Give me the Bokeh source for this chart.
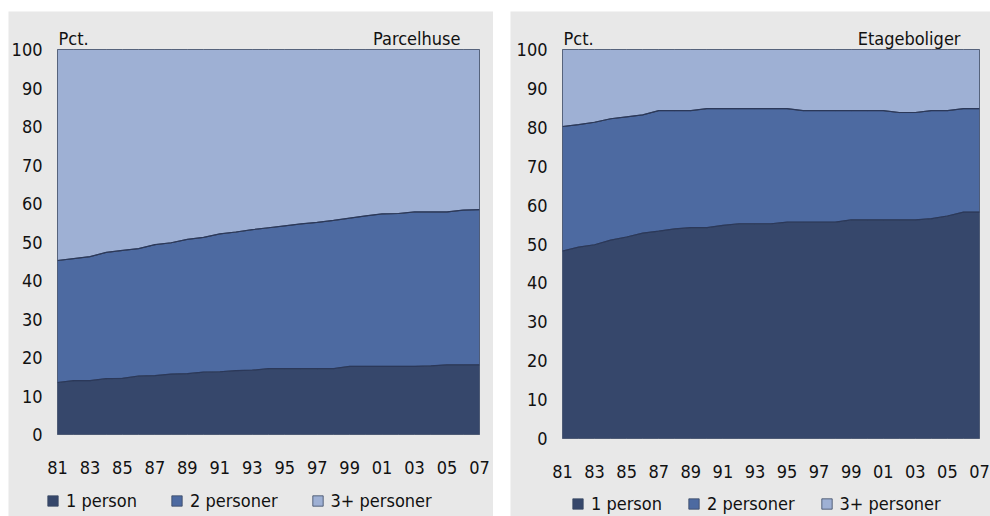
import numpy as np
from bokeh.plotting import figure
from bokeh.models import (Range1d, FixedTicker, Label, Legend, LegendItem, Spacer,
                          LinearAxis, BoxAnnotation)
from bokeh.layouts import row, column
from bokeh.embed import file_html
from bokeh.resources import INLINE

years = list(range(1981, 2008))
year_ticks = list(range(1981, 2008, 2))
year_labels = ["81", "83", "85", "87", "89", "91", "93", "95", "97", "99", "01", "03", "05", "07"]
y_ticks = list(range(0, 101, 10))
series_names = ["1 person", "2 personer", "3+ personer"]

# Parcelhuse (pct.)
parcel_1 = [13.5, 14.0, 14.0, 14.5, 14.6, 15.2, 15.3, 15.7, 15.8, 16.2, 16.3, 16.6, 16.7, 17.1,
            17.1, 17.1, 17.1, 17.1, 17.7, 17.7, 17.7, 17.7, 17.7, 17.8, 18.1, 18.1, 18.1]
parcel_2 = [31.7, 31.7, 32.2, 32.8, 33.2, 33.1, 34.0, 34.1, 34.9, 35.0, 35.8, 36.0, 36.5, 36.6,
            37.1, 37.6, 38.0, 38.5, 38.5, 39.1, 39.6, 39.7, 40.1, 40.0, 39.7, 40.2, 40.3]
parcel_3 = [54.8, 54.3, 53.8, 52.7, 52.2, 51.7, 50.7, 50.2, 49.3, 48.8, 47.9, 47.4, 46.8, 46.3,
            45.8, 45.3, 44.9, 44.4, 43.8, 43.2, 42.7, 42.6, 42.2, 42.2, 42.2, 41.7, 41.6]

# Etageboliger (pct.)
etage_1 = [48.2, 49.2, 49.8, 51.0, 51.8, 52.8, 53.3, 53.9, 54.2, 54.2, 54.8, 55.2, 55.2, 55.2,
           55.6, 55.6, 55.6, 55.6, 56.2, 56.2, 56.2, 56.2, 56.2, 56.5, 57.2, 58.2, 58.2]
etage_2 = [32.0, 31.5, 31.5, 31.2, 30.9, 30.4, 31.0, 30.4, 30.1, 30.6, 30.0, 29.6, 29.6, 29.6,
           29.2, 28.7, 28.7, 28.7, 28.1, 28.1, 28.1, 27.6, 27.6, 27.8, 27.1, 26.6, 26.6]
etage_3 = [19.8, 19.3, 18.7, 17.8, 17.3, 16.8, 15.7, 15.7, 15.7, 15.2, 15.2, 15.2, 15.2, 15.2,
           15.2, 15.7, 15.7, 15.7, 15.7, 15.7, 15.7, 16.2, 16.2, 15.7, 15.7, 15.2, 15.2]

COLORS = ["#36476b", "#4d6aa1", "#9eb0d4"]
EDGE = "#2b3859"
BG = "#e8e8e8"
FONT = "DejaVu Sans Condensed"
FS = "18px"
TXT = "#111111"


def make_panel(title, series, width, height, px_left, px_right, px_top, px_bottom,
               legend_loc, legend_spacing):
    # px_*: pixel position (inside this figure) of the data area's edges
    x0, x1 = years[0], years[-1]
    xs_per_px = (x1 - x0) / (px_right - px_left)
    ys_per_px = 100.0 / (px_bottom - px_top)
    xr = Range1d(x0 - px_left * xs_per_px, x1 + (width - px_right) * xs_per_px)
    yr = Range1d(0 - (height - px_bottom) * ys_per_px, 100 + px_top * ys_per_px)

    p = figure(width=width, height=height, output_backend="svg", toolbar_location=None,
               x_range=xr, y_range=yr, x_axis_location=None, y_axis_location=None,
               min_border=0)
    p.border_fill_color = BG
    p.background_fill_color = BG
    p.outline_line_color = None
    p.grid.visible = False

    x = np.array(years, dtype=float)
    lower = np.zeros(len(years))
    renderers = []
    for vals, col in zip(series, COLORS):
        upper = lower + np.array(vals)
        xs = list(x) + list(x[::-1])
        ys = list(upper) + list(lower[::-1])
        r = p.patch(xs, ys, fill_color=col, line_color="#3a4763", line_width=0.8)
        renderers.append(r)
        lower = upper
    cum = np.zeros(len(years))
    for vals in series[:-1]:
        cum = cum + np.array(vals)
        p.line(x, cum, line_color=EDGE, line_width=1.2)

    p.add_layout(BoxAnnotation(left=x0, right=x1, bottom=0, top=100, fill_alpha=0,
                               line_color="#56647f", line_width=1))

    xaxis = LinearAxis(fixed_location=0, ticker=FixedTicker(ticks=year_ticks))
    xaxis.major_label_overrides = {t: l for t, l in zip(year_ticks, year_labels)}
    yaxis = LinearAxis(fixed_location=x0, ticker=FixedTicker(ticks=y_ticks))
    for ax in (xaxis, yaxis):
        ax.axis_line_color = None
        ax.major_tick_line_color = None
        ax.minor_tick_line_color = None
        ax.major_tick_in = 0
        ax.major_tick_out = 0
        ax.minor_tick_in = 0
        ax.minor_tick_out = 0
        ax.major_label_text_font = FONT
        ax.major_label_text_font_size = FS
        ax.major_label_text_color = TXT
    xaxis.major_label_standoff = 26
    yaxis.major_label_standoff = 15
    p.add_layout(xaxis, "below")
    p.add_layout(yaxis, "left")

    p.add_layout(Label(x=x0, y=100, x_offset=1, y_offset=11, text="Pct.",
                       text_font=FONT, text_font_size=FS, text_color=TXT,
                       text_baseline="alphabetic", text_align="left"))
    p.add_layout(Label(x=x1, y=100, x_offset=-19, y_offset=11, text=title,
                       text_font=FONT, text_font_size=FS, text_color=TXT,
                       text_baseline="alphabetic", text_align="right"))

    items = [LegendItem(label=n, renderers=[r]) for n, r in zip(series_names, renderers)]
    leg = Legend(items=items, orientation="horizontal", location=legend_loc)
    leg.background_fill_alpha = 0
    leg.border_line_color = None
    leg.padding = 0
    leg.margin = 0
    leg.spacing = legend_spacing
    leg.glyph_width = 13
    leg.glyph_height = 13
    leg.label_standoff = 7
    leg.label_height = 13
    leg.label_text_font = FONT
    leg.label_text_font_size = FS
    leg.label_text_color = TXT
    p.add_layout(leg, "center")
    return p


left = make_panel("Parcelhuse", [parcel_1, parcel_2, parcel_3], 485, 505,
                  49, 471, 38, 423, (38, 5), 33)
right = make_panel("Etageboliger", [etage_1, etage_2, etage_3], 480, 505,
                   52, 469, 38, 427, (61, 2), 25)

layout = column(Spacer(width=10, height=11),
                row(Spacer(width=8, height=505), left, Spacer(width=17, height=505), right))

open("out.html", "w").write(file_html(layout, INLINE))
